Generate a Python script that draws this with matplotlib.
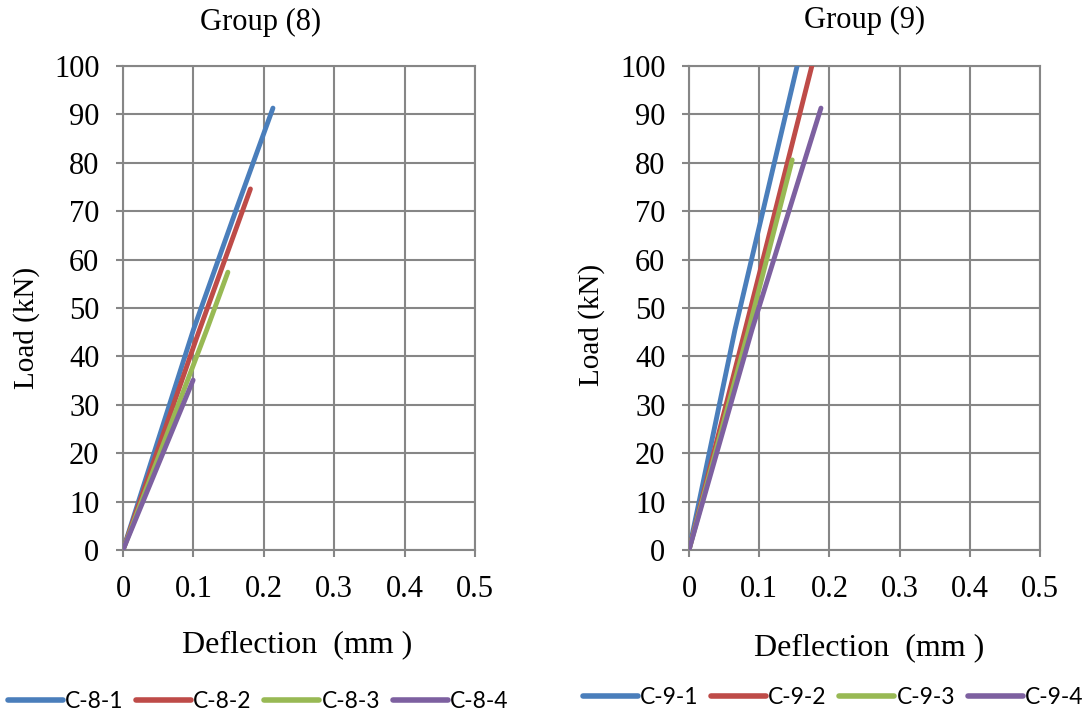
import matplotlib
matplotlib.use("Agg")
import matplotlib.pyplot as plt
from matplotlib.lines import Line2D

# ---- data ----
g8_names = ["C-8-1", "C-8-2", "C-8-3", "C-8-4"]
g8_x = [[0, 0.100, 0.159, 0.213], [0, 0.105, 0.181], [0, 0.119, 0.149], [0, 0.0996]]
g8_y = [[0, 45.5, 69.6, 91.3], [0, 44.0, 74.6], [0, 45.5, 57.4], [0, 35.1]]

g9_names = ["C-9-1", "C-9-2", "C-9-3", "C-9-4"]
g9_x = [[0, 0.0655, 0.154, 0.160], [0, 0.080, 0.175, 0.180], [0, 0.085, 0.147], [0, 0.0897, 0.188]]
g9_y = [[0, 45.5, 100.0, 104.0], [0, 45.5, 100.0, 103.0], [0, 45.5, 80.6], [0, 45.5, 91.3]]

colors = ["#4A7EBB", "#BE4B48", "#98B954", "#7D60A0"]
x_ticks = [0, 0.1, 0.2, 0.3, 0.4, 0.5]
x_tick_labels = ["0", "0.1", "0.2", "0.3", "0.4", "0.5"]
y_ticks = list(range(0, 101, 10))

W, H = 1088, 717
fig = plt.figure(figsize=(W / 100, H / 100), dpi=100)
serif = "Liberation Serif"
grid_c = "#868686"

def make_ax(left_px, right_px, names, xs, ys):
    ax = fig.add_axes([left_px / W, (H - 550) / H, (right_px - left_px) / W, 484 / H])
    for n, x, y, c in zip(names, xs, ys, colors):
        ax.plot(x, y, color=c, lw=3.5, solid_capstyle="round", label=n, zorder=3)
    ax.set_xlim(0, 0.5)
    ax.set_ylim(0, 100)
    ax.set_xticks(x_ticks)
    ax.set_xticklabels(x_tick_labels)
    ax.set_yticks(y_ticks)
    ax.grid(True, color=grid_c, lw=1.5)
    for s in ax.spines.values():
        s.set_color(grid_c)
        s.set_linewidth(1.5)
    ax.tick_params(axis="both", direction="out", length=5, width=1.5, color=grid_c,
                   labelsize=22)
    ax.tick_params(axis="y", pad=12)
    ax.tick_params(axis="x", pad=13)
    for lab in ax.get_xticklabels() + ax.get_yticklabels():
        lab.set_fontfamily(serif)
    ax.set_axisbelow(True)
    return ax

ax1 = make_ax(123, 475, g8_names, g8_x, g8_y)
ax2 = make_ax(689, 1040, g9_names, g9_x, g9_y)

fig.text(261 / W, 1 - 22 / H, "Group (8)", ha="center", va="center", fontsize=22, family=serif)
fig.text(865 / W, 1 - 20 / H, "Group (9)", ha="center", va="center", fontsize=22, family=serif)
fig.text(27 / W, 1 - 328 / H, "Load (kN)", ha="center", va="center", rotation=90, fontsize=21, family=serif)
fig.text(592 / W, 1 - 325 / H, "Load (kN)", ha="center", va="center", rotation=90, fontsize=21, family=serif)
fig.text(297 / W, 1 - 645 / H, "Deflection  (mm )", ha="center", va="center", fontsize=23, family=serif)
fig.text(869 / W, 1 - 648 / H, "Deflection  (mm )", ha="center", va="center", fontsize=23, family=serif)

def legend(names, cx, cy):
    handles = [Line2D([0], [0], color=c, lw=4, solid_capstyle="round") for c in colors]
    fig.legend(handles, names, loc="center", bbox_to_anchor=(cx / W, 1 - cy / H), ncol=4,
               frameon=False, prop={"family": "Lato", "size": 16.5}, handlelength=2.4,
               handletextpad=0.1, columnspacing=0.55, borderaxespad=0, borderpad=0)

legend(g8_names, 258, 702)
legend(g9_names, 833, 698)

fig.savefig("out.png", dpi=100)
